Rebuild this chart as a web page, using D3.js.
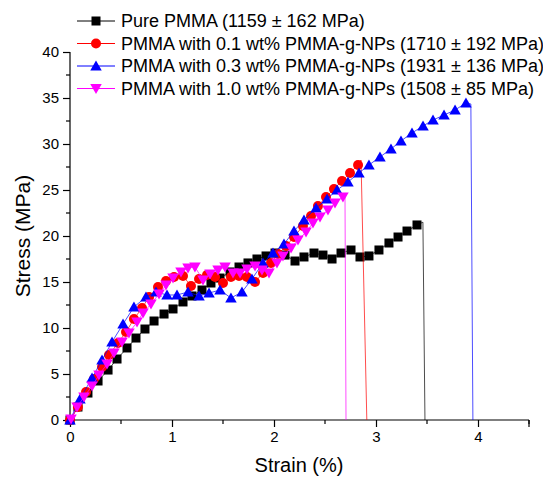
<!DOCTYPE html>
<html>
<head>
<meta charset="utf-8">
<script src="https://cdn.jsdelivr.net/npm/d3@7"></script>
<style>
  html, body { margin: 0; padding: 0; background: #fff; }
  svg { display: block; font-family: Arial, "Liberation Sans", sans-serif; }
</style>
</head>
<body>
<svg id="chart" width="543" height="478"></svg>
<script>
// ---------- data ----------
const seriesNames = [
  "Pure PMMA (1159 \u00B1 162 MPa)",
  "PMMA with 0.1 wt% PMMA-g-NPs (1710 \u00B1 192 MPa)",
  "PMMA with 0.3 wt% PMMA-g-NPs (1931 \u00B1 136 MPa)",
  "PMMA with 1.0 wt% PMMA-g-NPs (1508 \u00B1 85 MPa)"
];

const pureStrain = [0, 0.078, 0.176, 0.275, 0.373, 0.461, 0.559, 0.647, 0.735, 0.824, 0.922, 1.010, 1.108, 1.196, 1.294, 1.382, 1.471, 1.569, 1.657, 1.745, 1.833, 1.922, 2.010, 2.108, 2.206, 2.294, 2.392, 2.480, 2.569, 2.657, 2.755, 2.843, 2.931, 3.029, 3.127, 3.216, 3.304, 3.402];
const pureStress = [0, 1.41, 2.93, 4.24, 5.43, 6.63, 7.83, 8.91, 9.89, 10.76, 11.52, 12.07, 12.83, 13.48, 14.13, 14.89, 15.43, 16.09, 16.63, 17.07, 17.50, 17.83, 18.15, 17.93, 17.28, 17.72, 18.15, 17.93, 17.50, 18.15, 18.48, 17.72, 17.83, 18.48, 19.24, 19.89, 20.54, 21.20];

const p01Strain = [0, 0.078, 0.157, 0.235, 0.314, 0.382, 0.471, 0.549, 0.627, 0.706, 0.775, 0.863, 0.941, 1.020, 1.108, 1.186, 1.265, 1.343, 1.422, 1.500, 1.578, 1.657, 1.735, 1.814, 1.892, 1.971, 2.039, 2.118, 2.196, 2.284, 2.363, 2.431, 2.510, 2.588, 2.667, 2.745, 2.824];
const p01Stress = [0, 1.41, 3.04, 4.46, 5.76, 7.07, 8.37, 9.57, 10.98, 12.17, 13.37, 14.46, 15.11, 15.54, 15.65, 14.57, 15.33, 15.76, 15.54, 14.89, 15.54, 15.65, 15.54, 15.00, 15.98, 17.07, 18.04, 18.91, 19.89, 21.09, 22.17, 23.26, 24.24, 25.11, 25.98, 26.85, 27.72];

const p03Strain = [0, 0.098, 0.216, 0.314, 0.412, 0.520, 0.627, 0.745, 0.843, 0.951, 1.049, 1.157, 1.265, 1.363, 1.471, 1.578, 1.686, 1.784, 1.892, 1.990, 2.098, 2.196, 2.294, 2.412, 2.520, 2.618, 2.725, 2.833, 2.931, 3.039, 3.147, 3.245, 3.353, 3.461, 3.559, 3.667, 3.775, 3.882];
const p03Stress = [0, 2.28, 4.57, 6.52, 8.48, 10.43, 12.28, 13.37, 13.91, 13.59, 13.59, 13.91, 13.48, 13.80, 14.13, 13.26, 13.91, 15.33, 17.07, 18.15, 19.13, 20.54, 21.74, 23.04, 24.02, 25.00, 25.87, 26.85, 27.72, 28.59, 29.46, 30.33, 31.20, 31.96, 32.61, 33.15, 33.70, 34.46];

const p10Strain = [0.01, 0.069, 0.137, 0.216, 0.284, 0.363, 0.431, 0.510, 0.578, 0.657, 0.716, 0.794, 0.873, 0.941, 1.010, 1.088, 1.157, 1.225, 1.304, 1.373, 1.451, 1.520, 1.598, 1.667, 1.735, 1.814, 1.882, 1.951, 2.029, 2.088, 2.167, 2.235, 2.314, 2.382, 2.451, 2.529, 2.598, 2.676];
const p10Stress = [0.1, 1.41, 2.50, 3.70, 4.89, 6.09, 7.28, 8.48, 9.46, 10.65, 11.63, 12.61, 13.70, 14.67, 15.43, 16.09, 16.52, 16.63, 15.22, 15.87, 16.30, 16.63, 15.98, 15.98, 16.41, 16.74, 16.30, 15.98, 17.07, 17.83, 18.70, 19.57, 20.43, 21.41, 22.07, 22.83, 23.59, 24.24];

// fracture: last strain/stress before the drop, and strain where the drop reaches 0
const breakStrain = [3.46, 2.853, 3.93, 2.696];
const breakStress = [21.5, 28.26, 34.35, 24.46];
const breakEndStrain = [3.48, 2.91, 3.95, 2.706];

const xTicks = [0, 1, 2, 3, 4];
const yTicks = [0, 5, 10, 15, 20, 25, 30, 35, 40];

const colors = ["#000000", "#ff0000", "#0000ff", "#ff00ff"];
const markers = ["square", "circle", "triangle", "triangleDown"];

// ---------- layout ----------
const svg = d3.select("#chart");
const x = d3.scaleLinear().domain([0, 4.5]).range([70, 529]);
const y = d3.scaleLinear().domain([0, 40]).range([420, 52]);

const strains = [pureStrain, p01Strain, p03Strain, p10Strain];
const stresses = [pureStress, p01Stress, p03Stress, p10Stress];

// axes
const xAxis = d3.axisBottom(x).tickValues(xTicks).tickFormat(d3.format("d")).tickSize(7).tickPadding(4);
const yAxis = d3.axisLeft(y).tickValues(yTicks).tickFormat(d3.format("d")).tickSize(7).tickPadding(4);

const gx = svg.append("g").attr("transform", "translate(0,420)").call(xAxis);
const gy = svg.append("g").attr("transform", "translate(70,0)").call(yAxis);

// minor ticks
const xMinor = d3.range(0.5, 4.6, 1);
gx.selectAll(".minor").data(xMinor).enter().append("line")
  .attr("x1", d => x(d)).attr("x2", d => x(d)).attr("y1", 0).attr("y2", 4)
  .attr("stroke", "#000").attr("stroke-width", 1.2);
const yMinor = d3.range(2.5, 40, 5);
gy.selectAll(".minor").data(yMinor).enter().append("line")
  .attr("y1", d => y(d)).attr("y2", d => y(d)).attr("x1", 0).attr("x2", -4)
  .attr("stroke", "#000").attr("stroke-width", 1.2);

[gx, gy].forEach(g => {
  g.select(".domain").attr("stroke", "#000").attr("stroke-width", 1.2);
  g.selectAll(".tick line").attr("stroke", "#000").attr("stroke-width", 1.2);
  g.selectAll(".tick text").attr("font-size", 15).attr("fill", "#000")
    .attr("font-family", 'Arial, "Liberation Sans", sans-serif');
});
gx.select(".domain").attr("d", `M${x(0)},0H${x(4.5)}`);
gy.select(".domain").attr("d", `M0,${y(0)}V${y(40)}`);
gx.append("line").attr("x1", x(4.5)).attr("x2", x(4.5)).attr("y1", 0).attr("y2", 7)
  .attr("stroke", "#000").attr("stroke-width", 1.2);

// axis titles
svg.append("text").attr("x", 299).attr("y", 472).attr("text-anchor", "middle")
  .attr("font-size", 20).attr("fill", "#000").text("Strain (%)");
svg.append("text").attr("transform", "translate(22,236) rotate(-90)").attr("text-anchor", "middle")
  .attr("dominant-baseline", "central")
  .attr("font-size", 21).attr("fill", "#000").text("Stress (MPa)");

// marker drawer
function drawMarker(g, type, cx, cy, color) {
  if (type === "square") {
    g.append("rect").attr("x", cx - 4.5).attr("y", cy - 4.5).attr("width", 9).attr("height", 9).attr("fill", color);
  } else if (type === "circle") {
    g.append("circle").attr("cx", cx).attr("cy", cy).attr("r", 5).attr("fill", color);
  } else if (type === "triangle") {
    const s = 11.5;
    const h = s * 0.87;
    g.append("path").attr("d", `M${cx},${cy - h * 0.55}L${cx + s / 2},${cy + h * 0.45}L${cx - s / 2},${cy + h * 0.45}Z`).attr("fill", color);
  } else {
    const s = 11.5;
    const h = s * 0.87;
    g.append("path").attr("d", `M${cx},${cy + h * 0.55}L${cx + s / 2},${cy - h * 0.45}L${cx - s / 2},${cy - h * 0.45}Z`).attr("fill", color);
  }
}

const line = d3.line().x(d => x(d[0])).y(d => y(d[1]));

strains.forEach((sx, i) => {
  const pts = sx.map((v, j) => [v, stresses[i][j]]);
  const path = pts.concat([[breakStrain[i], breakStress[i]], [breakEndStrain[i], 0]]);
  const g = svg.append("g");
  g.append("path").attr("d", line(path)).attr("fill", "none")
    .attr("stroke", colors[i]).attr("stroke-width", 1).attr("stroke-opacity", 0.7);
  pts.forEach(p => drawMarker(g, markers[i], x(p[0]), y(p[1]), colors[i]));
});

// legend
const legY = [21, 43.5, 66, 88.5];
seriesNames.forEach((name, i) => {
  const g = svg.append("g");
  g.append("line").attr("x1", 77).attr("x2", 115).attr("y1", legY[i]).attr("y2", legY[i])
    .attr("stroke", colors[i]).attr("stroke-width", 1);
  drawMarker(g, markers[i], 96, legY[i], colors[i]);
  g.append("text").attr("x", 121).attr("y", legY[i]).attr("dominant-baseline", "central")
    .attr("font-size", 18).attr("fill", "#000").text(name);
});
</script>
</body>
</html>
